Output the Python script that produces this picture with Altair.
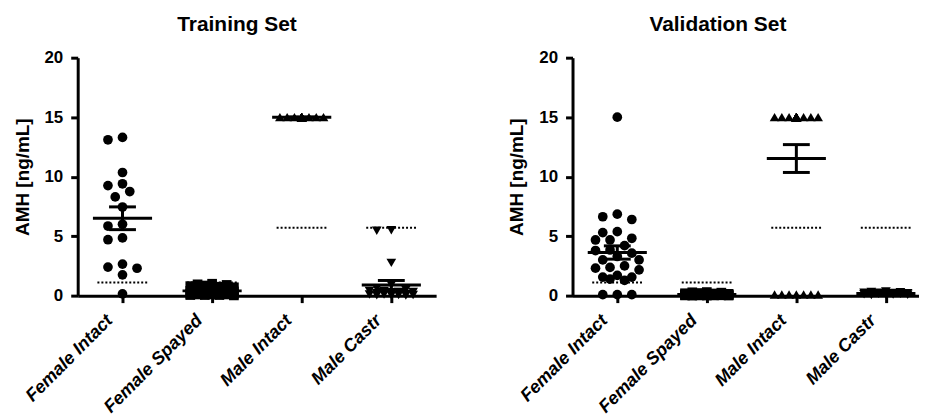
import altair as alt
import pandas as pd

categories = ["Female Intact", "Female Spayed", "Male Intact", "Male Castr"]
shapes = ["circle", "square", "triangle-up", "triangle-down"]
cutoffs = [1.1, 1.1, 5.7, 5.7]

train_female_intact = [13.3, 13.1, 10.35, 9.25, 9.4, 8.75, 8.3, 7.45, 5.85, 6.0,
                       4.7, 4.85, 2.3, 2.65, 2.4, 1.75, 0.15]
train_female_spayed = [1.0, 0.95, 0.9, 0.85, 0.8, 0.75, 0.7, 0.6, 0.55, 0.5, 0.45,
                       0.4, 0.4, 0.35, 0.3, 0.3, 0.25, 0.2, 0.2, 0.15, 0.15, 0.1,
                       0.1, 0.1, 0.05, 0.05, 0.05, 0.02]
train_male_intact = [15.0, 15.0, 15.0, 15.0, 15.0, 15.0, 15.0, 15.0, 15.0, 15.0,
                     15.0, 15.0, 15.0, 15.0, 15.0, 15.0, 15.0, 15.0, 15.0, 15.0]
train_male_castr = [5.5, 5.45, 2.75, 0.9, 0.6, 0.5, 0.4, 0.4, 0.3, 0.3, 0.2, 0.2,
                    0.15, 0.1, 0.1, 0.05, 0.05, 0.02, 0.02, 0.01]

val_female_intact = [15.0, 6.85, 6.4, 6.63, 5.38, 5.3, 4.68, 4.82, 4.68, 4.2, 3.79,
                     3.57, 3.84, 3.29, 2.31, 2.5, 2.37, 3.0, 3.0, 1.56, 1.56, 1.39,
                     1.7, 1.28, 0.08, 0.08, 0.08, 2.17]
val_female_spayed = [0.3, 0.28, 0.25, 0.22, 0.2, 0.18, 0.15, 0.15, 0.12, 0.12, 0.1,
                     0.1, 0.1, 0.08, 0.08, 0.07, 0.06, 0.05, 0.05, 0.05, 0.04, 0.04,
                     0.03, 0.03, 0.02, 0.02, 0.02, 0.01, 0.01, 0.01]
val_male_intact = [15.0, 15.0, 15.0, 15.0, 15.0, 15.0, 15.0, 15.0, 15.0, 15.0, 15.0,
                   15.0, 15.0, 15.0, 15.0, 15.0, 15.0, 15.0, 15.0, 15.0, 15.0, 15.0,
                   15.0, 0.1, 0.1, 0.1, 0.1, 0.1, 0.1, 0.1]
val_male_castr = [0.35, 0.3, 0.28, 0.25, 0.25, 0.22, 0.2, 0.2, 0.18, 0.15, 0.15,
                  0.12, 0.1, 0.1, 0.08, 0.05]

PLOT_H = 239
PX_X = 90.0
PX_Y = PLOT_H / 20.0


def swarm(values, step_px=7.3, max_k=3, diam=10.0):
    """Deterministic beeswarm: horizontal offsets (category units) from values."""
    order = sorted(range(len(values)), key=lambda i: -values[i])
    cands = [0]
    for k in range(1, max_k + 1):
        cands += [-k, k]
    placed = []
    offs = [0.0] * len(values)
    for i in order:
        y = values[i] * PX_Y
        chosen = None
        best_x, best_d = 0.0, -1.0
        for c in cands:
            x = c * step_px
            d = min([((x - px) ** 2 + (y - py) ** 2) ** 0.5 for px, py in placed],
                    default=1e9)
            if d >= diam:
                chosen = x
                break
            if d > best_d:
                best_d, best_x = d, x
        if chosen is None:
            chosen = best_x
        placed.append((chosen, y))
        offs[i] = chosen / PX_X
    return offs


label_expr = "[" + ",".join('"%s"' % c for c in categories) + "][datum.value]"


def panel(title, groups, xmax, width, title_dx):
    rows = []
    for idx, (cat, vals) in enumerate(zip(categories, groups)):
        for v, o in zip(vals, swarm(vals)):
            rows.append({"cat": cat, "idx": idx, "value": v, "xpos": idx + o})
    pts = pd.DataFrame(rows)
    cut = pd.DataFrame({"cat": categories, "idx": list(range(4)), "cut": cutoffs})

    xs = alt.Scale(domain=[-0.5, xmax], nice=False, zero=False)
    ys = alt.Scale(domain=[0, 20], nice=False)
    xaxis = alt.Axis(values=[0, 1, 2, 3], labelExpr=label_expr, title=None,
                     labelAngle=-45, labelFontStyle="italic", labelFontSize=18,
                     labelAlign="right", labelBaseline="middle", labelPadding=15,
                     labelOffset=-13, labelOverlap=False, labelBound=False)
    yaxis = alt.Axis(values=[0, 5, 10, 15, 20], title="AMH [ng/mL]",
                     titleFontSize=19, labelFontSize=17, labelPadding=8,
                     titlePadding=12)

    def X(f):
        return alt.X(f, scale=xs, axis=xaxis)

    def Y(f):
        return alt.Y(f, scale=ys, axis=yaxis)

    points = alt.Chart(pts).mark_point(filled=True, size=95, opacity=1,
                                       color="black").encode(
        x=X("xpos:Q"),
        y=Y("value:Q"),
        shape=alt.Shape("cat:N", scale=alt.Scale(domain=categories, range=shapes),
                        legend=None),
    )

    stats = alt.Chart(pts).transform_aggregate(
        m="mean(value)", se="stderr(value)", groupby=["cat", "idx"]
    ).transform_calculate(
        lo="datum.m - datum.se", hi="datum.m + datum.se",
        ml="datum.idx - 0.33", mr="datum.idx + 0.33",
        cl="datum.idx - 0.15", cr="datum.idx + 0.15",
    )
    rule_kw = dict(color="black", strokeWidth=3)
    mean_line = stats.mark_rule(**rule_kw).encode(x=X("ml:Q"), x2="mr:Q", y=Y("m:Q"))
    sem_bar = stats.mark_rule(**rule_kw).encode(x=X("idx:Q"), y=Y("lo:Q"), y2="hi:Q")
    cap_hi = stats.mark_rule(**rule_kw).encode(x=X("cl:Q"), x2="cr:Q", y=Y("hi:Q"))
    cap_lo = stats.mark_rule(**rule_kw).encode(x=X("cl:Q"), x2="cr:Q", y=Y("lo:Q"))

    cut_line = alt.Chart(cut).transform_calculate(
        l="datum.idx - 0.28", r="datum.idx + 0.28"
    ).mark_rule(color="black", strokeWidth=2, strokeDash=[2, 2]).encode(
        x=X("l:Q"), x2="r:Q", y=Y("cut:Q"))

    return alt.layer(points, cut_line, mean_line, sem_bar, cap_hi, cap_lo).properties(
        width=width, height=PLOT_H,
        title=alt.TitleParams(title, fontSize=21, fontWeight="bold",
                              font="Liberation Sans", color="black",
                              anchor="middle", dx=title_dx, offset=14),
    )


train = panel("Training Set",
              [train_female_intact, train_female_spayed, train_male_intact,
               train_male_castr], 3.5, 360, -20)
val = panel("Validation Set",
            [val_female_intact, val_female_spayed, val_male_intact, val_male_castr],
            3.37, 348, -28)

chart = alt.hconcat(train, val, spacing=72).properties(
    padding={"left": 5, "top": 5, "right": 0, "bottom": 0}
).configure_view(stroke=None).configure_axis(
    domainColor="black", domainWidth=3, tickColor="black", tickWidth=3, tickSize=7,
    labelColor="black", titleColor="black", labelFont="Liberation Sans",
    titleFont="Liberation Sans", labelFontWeight="bold", titleFontWeight="bold",
    grid=False,
)

chart.save("out.html", embed_options={"renderer": "svg", "actions": False})
